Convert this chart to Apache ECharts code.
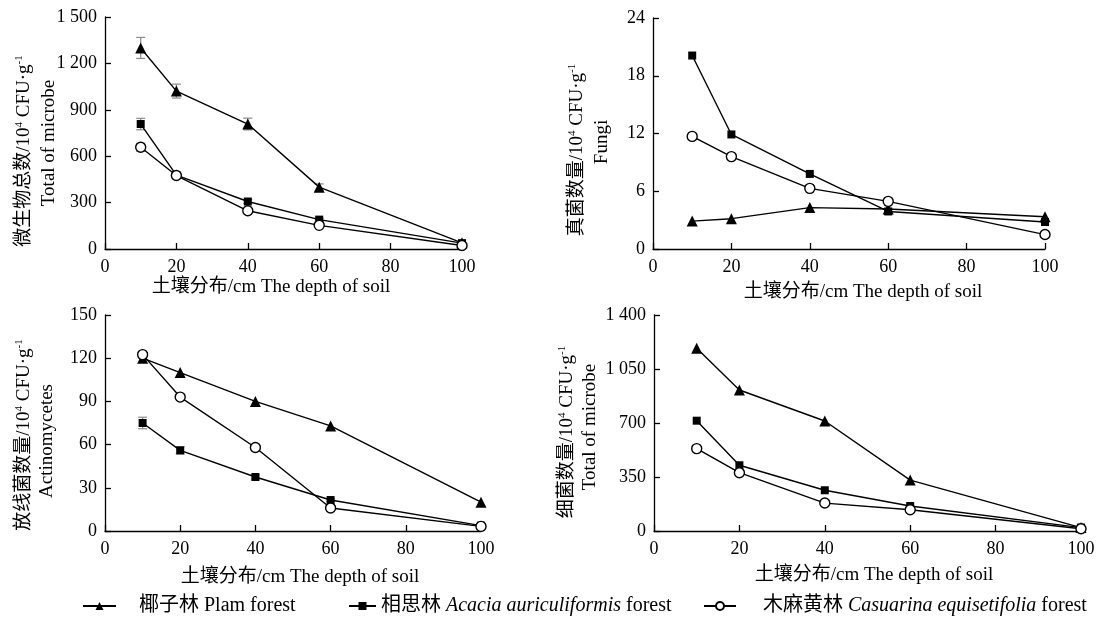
<!DOCTYPE html>
<html>
<head>
<meta charset="utf-8">
<script src="https://cdn.jsdelivr.net/npm/echarts@6/dist/echarts.min.js"></script>
<style>
    html, body { margin: 0; padding: 0; background: #fff; }
    #chart { width: 1111px; height: 619px; }
</style>
</head>
<body>
<div id="chart"></div>
<script>
// 土壤深度 cm
const depth = [10, 20, 40, 60, 100];
const seriesNames = ['椰子林', '相思林', '木麻黄林'];

// 微生物总数
const totalPalm = [1300, 1021, 808, 400, 40];
const totalPalmErr = [68, 45, 38, 21, 0];
const totalAcacia = [808, 478, 307, 190, 38];
const totalAcaciaErr = [37, 15, 12, 10, 0];
const totalCasuarina = [658, 475, 247, 153, 23];
const totalCasuarinaErr = [26, 10, 8, 8, 0];

// 真菌
const fungiPalm = [2.9, 3.15, 4.3, 4.15, 3.35];
const fungiAcacia = [20.1, 11.9, 7.8, 3.9, 2.8];
const fungiCasuarina = [11.7, 9.6, 6.3, 4.95, 1.5];

// 放线菌
const actinoPalm = [120, 110, 90, 73, 20];
const actinoAcacia = [75, 56, 37.5, 21.5, 3.7];
const actinoAcaciaErr = [4, 2.5, 1.5, 1, 0];
const actinoCasuarina = [122.5, 93, 58, 16, 3.2];

// 细菌
const bactPalm = [1184, 914, 713, 330, 22];
const bactAcacia = [715, 426, 264, 162, 22];
const bactCasuarina = [534, 378, 181, 138, 15];

const yMax = [1500, 24, 150, 1400];
const yInterval = [300, 6, 30, 350];
const yTitleCn = ['微生物总数', '真菌数量', '放线菌数量', '细菌数量'];
const yTitleEn = ['Total of microbe', 'Fungi', 'Actinomycetes', 'Total of microbe'];
const xTitle = '土壤分布/cm The depth of soil';

const FONT = "'Liberation Serif', 'Times New Roman', 'Noto Sans CJK SC', serif";

const panels = [
    { vals: [totalPalm, totalAcacia, totalCasuarina], errs: [totalPalmErr, totalAcaciaErr, totalCasuarinaErr] },
    { vals: [fungiPalm, fungiAcacia, fungiCasuarina], errs: [] },
    { vals: [actinoPalm, actinoAcacia, actinoCasuarina], errs: [null, actinoAcaciaErr, null] },
    { vals: [bactPalm, bactAcacia, bactCasuarina], errs: [] }
];

const grids = [
    { left: 105, top: 17, width: 357, height: 232 },
    { left: 653, top: 18, width: 392, height: 231 },
    { left: 105, top: 315, width: 376, height: 216 },
    { left: 654, top: 315, width: 427, height: 216 }
];

const yTitlePos = [
    [[24, 151], [49, 143]],
    [[577, 150], [602, 142]],
    [[24, 435], [47, 441]],
    [[567, 432], [590, 427]]
];
const xTitlePos = [[271, 287], [863, 292], [300, 577], [874, 575]];

const symbols = [
    { symbol: 'triangle', symbolSize: 11, color: '#000' },
    { symbol: 'rect', symbolSize: 8, color: '#000' },
    { symbol: 'circle', symbolSize: 10, color: '#fff' }
];

function fmtNum(v) {
    return v >= 1000 ? String(v).replace(/(\d)(\d{3})$/, '$1 $2') : String(v);
}

const axisLine = { lineStyle: { color: '#000', width: 1.3 } };
const axisTick = { inside: true, length: 6, lineStyle: { color: '#000', width: 1.3 } };
const axisLabel = { color: '#000', fontSize: 18, fontFamily: FONT, margin: 8 };

let xAxis = [], yAxis = [], series = [], graphic = [];

panels.forEach((p, gi) => {
    xAxis.push({
        type: 'value', gridIndex: gi, min: 0, max: 100, interval: 20,
        axisLine, axisTick, axisLabel: { ...axisLabel, margin: 9 }, splitLine: { show: false }
    });
    yAxis.push({
        type: 'value', gridIndex: gi, min: 0, max: yMax[gi], interval: yInterval[gi],
        axisLine: { show: true, ...axisLine }, axisTick,
        axisLabel: { ...axisLabel, formatter: fmtNum },
        splitLine: { show: false }
    });
    // 误差线
    p.errs.forEach((err, si) => {
        if (!err) return;
        const data = [];
        depth.forEach((d, i) => {
            if (err[i] > 0) data.push([d, p.vals[si][i] - err[i], p.vals[si][i] + err[i]]);
        });
        series.push({
            type: 'custom', xAxisIndex: gi, yAxisIndex: gi, z: 1, silent: true,
            data,
            renderItem: (params, api) => {
                const x = api.value(0);
                const top = api.coord([x, api.value(2)]);
                const bot = api.coord([x, api.value(1)]);
                const w = 4.5;
                const style = { stroke: '#8a8a8a', lineWidth: 1.2 };
                return {
                    type: 'group',
                    children: [
                        { type: 'line', shape: { x1: top[0], y1: top[1], x2: bot[0], y2: bot[1] }, style },
                        { type: 'line', shape: { x1: top[0] - w, y1: top[1], x2: top[0] + w, y2: top[1] }, style },
                        { type: 'line', shape: { x1: bot[0] - w, y1: bot[1], x2: bot[0] + w, y2: bot[1] }, style }
                    ]
                };
            }
        });
    });
    p.vals.forEach((vals, si) => {
        series.push({
            type: 'line', name: seriesNames[si], xAxisIndex: gi, yAxisIndex: gi, z: 2 + si,
            symbol: symbols[si].symbol, symbolSize: symbols[si].symbolSize,
            itemStyle: { color: symbols[si].color, borderColor: '#000', borderWidth: si === 2 ? 1.4 : 0 },
            lineStyle: { color: '#000', width: 1.4 },
            emphasis: { disabled: true },
            data: depth.map((d, i) => [d, vals[i]])
        });
    });

    const titleStyle = { fill: '#000', fontSize: 19, fontFamily: FONT, align: 'center', verticalAlign: 'middle' };
    graphic.push({
        type: 'text', x: yTitlePos[gi][0][0], y: yTitlePos[gi][0][1], rotation: Math.PI / 2,
        style: {
            ...titleStyle,
            text: '{t|' + yTitleCn[gi] + '/10}{s|4}{t| CFU·g}{s|-1}',
            rich: {
                t: { fontSize: 19, fontFamily: FONT, lineHeight: 20, verticalAlign: 'bottom' },
                s: { fontSize: 11, fontFamily: FONT, lineHeight: 20, verticalAlign: 'top' }
            }
        }
    });
    graphic.push({
        type: 'text', x: yTitlePos[gi][1][0], y: yTitlePos[gi][1][1], rotation: Math.PI / 2,
        style: { ...titleStyle, text: yTitleEn[gi] }
    });
    graphic.push({
        type: 'text', x: xTitlePos[gi][0], y: xTitlePos[gi][1],
        style: { ...titleStyle, text: xTitle }
    });
});

const legendLatin = ['', 'Acacia auriculiformis', 'Casuarina equisetifolia'];
function legendFmt(name) {
    const i = seriesNames.indexOf(name);
    if (i === 0) return '{n|' + name + ' Plam forest}';
    return '{n|' + name + ' }{i|' + legendLatin[i] + '}{n| forest}';
}
const legendText = (padLeft) => ({
    color: '#000', fontSize: 20, fontFamily: FONT, padding: [0, 0, 0, padLeft],
    rich: {
        n: { fontSize: 20, fontFamily: FONT, color: '#000' },
        i: { fontSize: 20, fontFamily: FONT, fontStyle: 'italic', color: '#000' }
    }
});
const legendBase = { top: 596, padding: 0, itemHeight: 10, selectedMode: false, formatter: legendFmt };

const option = {
    animation: false,
    backgroundColor: '#fff',
    grid: grids,
    xAxis,
    yAxis,
    series,
    graphic,
    legend: [
        { ...legendBase, data: [seriesNames[0]], left: 82, itemWidth: 33, textStyle: legendText(18) },
        { ...legendBase, data: [seriesNames[1]], left: 348, itemWidth: 27, textStyle: legendText(0) },
        { ...legendBase, data: [seriesNames[2]], left: 703, itemWidth: 32, textStyle: legendText(22) }
    ]
};

const chart = echarts.init(document.getElementById('chart'));
chart.setOption(option);
</script>
</body>
</html>
